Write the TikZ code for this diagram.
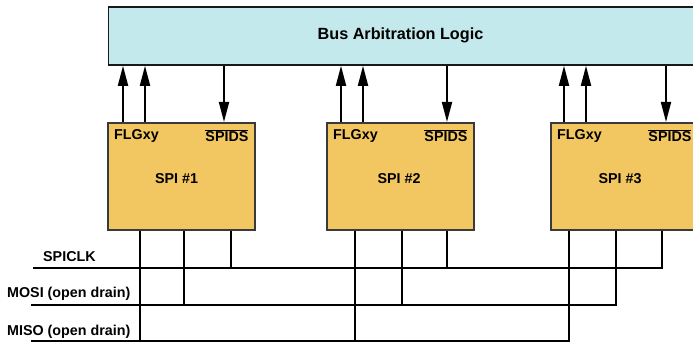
\documentclass[tikz,border=0pt]{standalone}
\usepackage{fontspec}
\setmainfont{Liberation Sans}
\usetikzlibrary{arrows.meta,calc}
\definecolor{arbfill}{HTML}{C3E9EC}
\definecolor{spifill}{HTML}{F2C762}
\definecolor{boxline}{HTML}{3A3A3A}
\begin{document}
\begin{tikzpicture}[x=1pt,y=-1pt,
  every node/.style={font=\bfseries\fontsize{14.3}{16}\selectfont, inner sep=0pt},
  arbbox/.style={draw=black!90, line width=1.8pt, fill=arbfill, minimum width=620pt, minimum height=57.5pt, anchor=north west},
  spibox/.style={draw=boxline, line width=1.6pt, fill=spifill, minimum width=147pt, minimum height=107pt, anchor=north west},
  sig/.style={line width=1.8pt, -{Triangle[length=20pt,width=10pt]}},
  bus/.style={line width=2.4pt},
  tap/.style={line width=2.2pt},
  lbl/.style={anchor=west}
]
\useasboundingbox (0,0) rectangle (693,342);
\clip (0,0) rectangle (693,342);

% boxes
\node[arbbox] (arb) at (107.5,6.5) {};
\node (arbtxt) at (400.5,35.5) {\fontsize{16.2}{18}\selectfont Bus Arbitration Logic};

\node[spibox] (spi1) at (107,122) {};
\node[spibox] (spi2) at (326,122) {};
\node[spibox] (spi3) at (550,122) {};

\foreach \b/\cx in {1/176.5, 2/399, 3/620}{
  \node[anchor=west] (flg\b) at ($(spi\b.north west)+(7,13.5)$) {FLGxy};
  \node[anchor=east] (ids\b) at ($(spi\b.north east)+(-7,14)$) {$\overline{\hbox{SPIDS}}$};
  \node (name\b) at (\cx,178.5) {SPI \#\b};
}

% arrows between SPI boxes and arbitration logic
\foreach \b/\u/\v/\d in {1/123/145/224, 2/341/363/447, 3/564/586/666}{
  \coordinate (ua\b) at (\u,122);
  \coordinate (ub\b) at (\v,122);
  \coordinate (dn\b) at (\d,122);
  \draw[sig] (ua\b) -- (ua\b |- arb.south);
  \draw[sig] (ub\b) -- (ub\b |- arb.south);
  \draw[sig] (dn\b |- arb.south) -- (dn\b);
}

% bus lines
\coordinate (clkL) at (33,268);  \coordinate (clkR) at (663,268);
\coordinate (mosiL) at (31,305); \coordinate (mosiR) at (617,305);
\coordinate (misoL) at (31,341); \coordinate (misoR) at (570,341);
\draw[bus] (clkL) -- (clkR);
\draw[bus] (mosiL) -- (mosiR);
\draw[bus] (misoL) -- (misoR);

\node[lbl] (clklbl) at (43,257) {SPICLK};
\node[lbl] (mosilbl) at (7,294) {MOSI (open drain)};
\node[lbl] (misolbl) at (7,332) {MISO (open drain)};

% taps from SPI boxes to bus lines
\foreach \b/\mi/\mo/\ck in {1/140/184/231, 2/355/402/447, 3/569/616/662}{
  \coordinate (mi\b) at (\mi,229);
  \coordinate (mo\b) at (\mo,229);
  \coordinate (ck\b) at (\ck,229);
  \draw[tap] (mi\b |- spi\b.south) -- (mi\b |- misoL);
  \draw[tap] (mo\b |- spi\b.south) -- (mo\b |- mosiL);
  \draw[tap] (ck\b |- spi\b.south) -- (ck\b |- clkL);
}
\end{tikzpicture}
\end{document}
